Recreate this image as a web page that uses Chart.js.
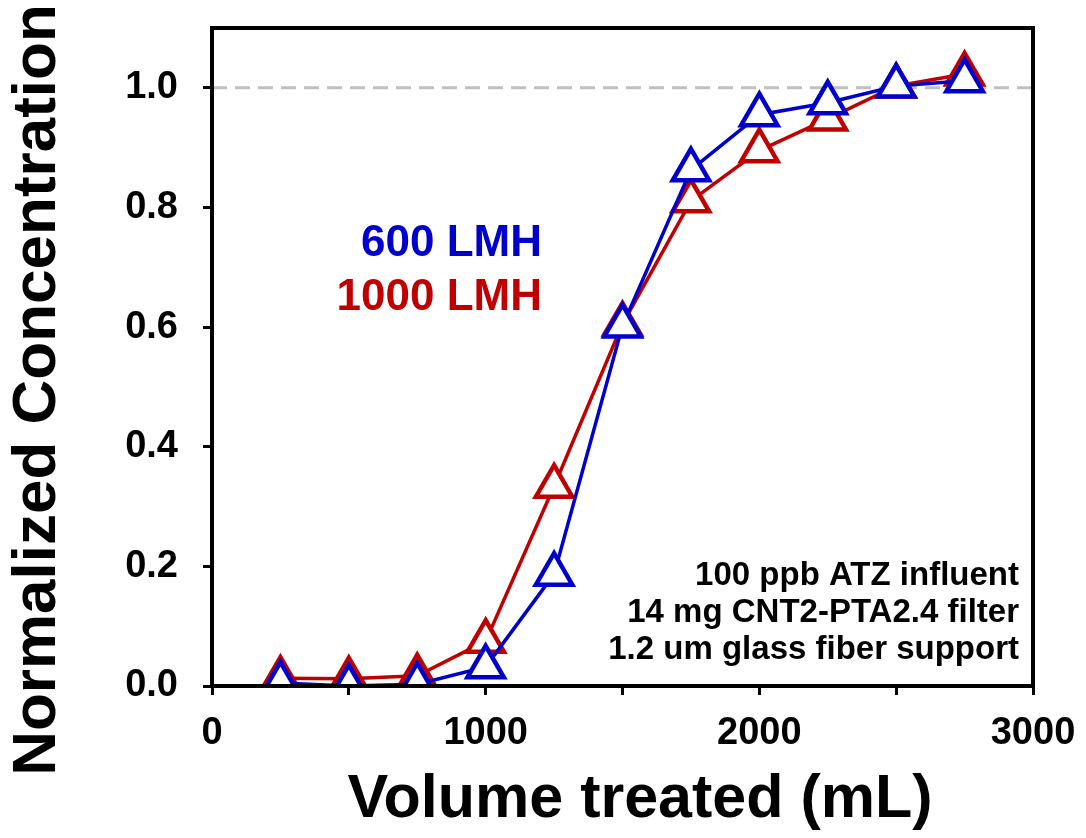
<!DOCTYPE html>
<html>
<head>
<meta charset="utf-8">
<script src="https://cdn.jsdelivr.net/npm/chart.js@4/dist/chart.umd.min.js"></script>
<style>
  html, body { margin: 0; padding: 0; background: #fff; }
  #wrap { width: 1086px; height: 838px; }
</style>
</head>
<body>
<div id="wrap"><canvas id="chart" width="1086" height="838"></canvas></div>
<script>
// volume treated (mL)
const volume = [250, 500, 750, 1000, 1250, 1500, 1750, 2000, 2250, 2500, 2750];
// normalized concentration C/C0
const lmh600 = [0.005, 0.0, 0.003, 0.032, 0.187, 0.602, 0.863, 0.955, 0.975, 1.003, 1.012];
const lmh1000 = [0.013, 0.012, 0.017, 0.075, 0.334, 0.605, 0.811, 0.895, 0.948, 1.003, 1.023];
const refLine = [1.0, 1.0];
const refX = [0, 3000];
const notes = ['100 ppb ATZ influent', '14 mg CNT2-PTA2.4 filter', '1.2 um glass fiber support'];

const BLUE = '#0000cc';
const RED = '#c00000';
const FONT = 'Arial, "Liberation Sans", sans-serif';

function pts(xs, ys) {
    return xs.map((x, i) => ({x: x, y: ys[i]}));
}

// frame, axis titles and text labels
const extras = {
    id: 'extras',
    afterDraw(chart) {
        const {ctx, chartArea: a} = chart;
        ctx.save();
        ctx.strokeStyle = '#000';
        ctx.lineWidth = 4;
        ctx.strokeRect(a.left, a.top, a.right - a.left, a.bottom - a.top);

        ctx.fillStyle = '#000';
        ctx.textAlign = 'center';
        ctx.textBaseline = 'middle';
        ctx.font = 'bold 61px ' + FONT;
        ctx.fillText('Volume treated (mL)', 640, 800);
        ctx.save();
        ctx.translate(38, 390);
        ctx.rotate(-Math.PI / 2);
        ctx.font = 'bold 62px ' + FONT;
        ctx.fillText('Normalized Concentration', 0, 0);
        ctx.restore();

        ctx.textAlign = 'right';
        ctx.font = 'bold 44px ' + FONT;
        ctx.fillStyle = BLUE;
        ctx.fillText('600 LMH', 542, 244);
        ctx.fillStyle = RED;
        ctx.fillText('1000 LMH', 542, 298);

        ctx.font = 'bold 33px ' + FONT;
        ctx.fillStyle = '#000';
        notes.forEach((t, i) => ctx.fillText(t, a.right - 14, 576 + i * 37));
        ctx.restore();
    }
};

new Chart(document.getElementById('chart'), {
    type: 'line',
    data: {
        datasets: [
            {
                label: '600 LMH',
                data: pts(volume, lmh600),
                borderColor: BLUE,
                borderWidth: 3.5,
                pointStyle: 'triangle',
                pointRadius: 21,
                pointBorderWidth: 4.5,
                pointBackgroundColor: '#fff',
                pointBorderColor: BLUE,
                tension: 0
            },
            {
                label: '1000 LMH',
                data: pts(volume, lmh1000),
                borderColor: RED,
                borderWidth: 3.5,
                pointStyle: 'triangle',
                pointRadius: 21,
                pointBorderWidth: 4.5,
                pointBackgroundColor: '#fff',
                pointBorderColor: RED,
                tension: 0
            },
            {
                label: 'C/C0 = 1',
                data: pts(refX, refLine),
                borderColor: '#c0c0c0',
                borderWidth: 3,
                borderDash: [15, 8],
                pointRadius: 0
            }
        ]
    },
    options: {
        responsive: false,
        animation: false,
        layout: {padding: {top: 28, right: 53, left: 0, bottom: 0}},
        plugins: {legend: {display: false}, tooltip: {enabled: false}},
        scales: {
            x: {
                type: 'linear',
                min: 0,
                max: 3000,
                afterFit(s) {
                    s.height = 152;
                    s.paddingLeft = 0;
                    s.paddingRight = 0;
                },
                border: {display: false},
                grid: {drawOnChartArea: false, color: '#000', lineWidth: 3, tickLength: 9},
                ticks: {
                    stepSize: 500,
                    color: '#000',
                    padding: 16,
                    maxRotation: 0,
                    autoSkip: false,
                    font: {family: FONT, size: 38, weight: 'bold'},
                    callback: v => (v % 1000 === 0 ? String(v) : '')
                }
            },
            y: {
                min: 0,
                max: 1.1,
                afterFit(s) {
                    s.width = 212;
                    s.paddingTop = 0;
                    s.paddingBottom = 0;
                },
                border: {display: false},
                grid: {drawOnChartArea: false, color: '#000', lineWidth: 3, tickLength: 9},
                ticks: {
                    stepSize: 0.2,
                    includeBounds: false,
                    color: '#000',
                    padding: 25,
                    font: {family: FONT, size: 38, weight: 'bold'},
                    callback: v => v.toFixed(1)
                }
            }
        }
    },
    plugins: [extras]
});
</script>
</body>
</html>
